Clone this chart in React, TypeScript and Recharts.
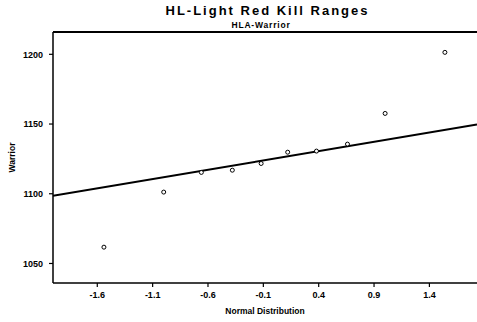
import React from 'react';
import {
    ScatterChart,
    Scatter,
    XAxis,
    YAxis,
    Label,
} from 'recharts';

const normalScores = [-1.54, -1.0, -0.66, -0.38, -0.12, 0.12, 0.38, 0.66, 1.0, 1.54];
const warriorValues = [1061.7, 1101.2, 1115.3, 1116.9, 1121.7, 1129.8, 1130.6, 1135.6, 1157.6, 1201.4];

// fitted reference line end points
const fitX = [-2.0, 1.83];
const fitY = [1098.5, 1149.6];

const xTicks = [-1.6, -1.1, -0.6, -0.1, 0.4, 0.9, 1.4];
const yTicks = [1050, 1100, 1150, 1200];

const points = normalScores.map((x, i) => ({ x, y: warriorValues[i] }));
const fitLine = fitX.map((x, i) => ({ x, y: fitY[i] }));

const font = '"Liberation Sans", Arial, sans-serif';
const tickStyle = { fill: '#000', fontSize: 9, fontWeight: 700, fontFamily: font };

export default function App() {
    return (
        <div style={{ position: 'absolute', left: 0, top: 0, width: 477, height: 322, background: '#fff', fontFamily: font }}>
            <ScatterChart width={477} height={322} margin={{ top: 32, right: 0, left: 0, bottom: 0 }}>
                <XAxis
                    type="number"
                    dataKey="x"
                    domain={[-2.0, 1.83]}
                    ticks={xTicks}
                    tickFormatter={(v: number) => v.toFixed(1)}
                    tick={tickStyle}
                    tickSize={4}
                    tickMargin={5}
                    height={39}
                    axisLine={{ stroke: '#000', strokeWidth: 1.5 }}
                    tickLine={{ stroke: '#000', strokeWidth: 1.2 }}
                    allowDataOverflow
                >
                    <Label value="Normal Distribution" position="insideBottom" offset={8}
                        style={{ fill: '#000', fontSize: 8.5, fontWeight: 700, fontFamily: font }} />
                </XAxis>
                <YAxis
                    type="number"
                    dataKey="y"
                    domain={[1036, 1216]}
                    ticks={yTicks}
                    tick={tickStyle}
                    tickSize={4}
                    tickMargin={6}
                    width={53}
                    axisLine={{ stroke: '#000', strokeWidth: 1.5 }}
                    tickLine={{ stroke: '#000', strokeWidth: 1.2 }}
                    allowDataOverflow
                >
                    <Label value="Warrior" angle={-90} position="insideLeft" offset={12}
                        style={{ fill: '#000', fontSize: 8.5, fontWeight: 700, fontFamily: font, textAnchor: 'middle' }} />
                </YAxis>
                <Scatter
                    data={fitLine}
                    line={{ stroke: '#000', strokeWidth: 2 }}
                    shape={() => null}
                    isAnimationActive={false}
                />
                <Scatter
                    data={points}
                    shape={(p: any) => (
                        <circle cx={p.cx} cy={p.cy} r={2} fill="#fff" stroke="#000" strokeWidth={1} />
                    )}
                    isAnimationActive={false}
                />
            </ScatterChart>
            <div style={{ position: 'absolute', left: 0, width: 535, top: 3, textAlign: 'center', fontSize: 13, fontWeight: 700, letterSpacing: 2, lineHeight: '15px', zIndex: 2 }}>
                HL-Light Red Kill Ranges
            </div>
            <div style={{ position: 'absolute', left: 0, width: 522, top: 20, textAlign: 'center', fontSize: 8.5, fontWeight: 700, letterSpacing: 0.8, lineHeight: '10px', zIndex: 2 }}>
                HLA-Warrior
            </div>
            {/* top frame line of the plot box */}
            <div style={{ position: 'absolute', left: 53, top: 31, width: 424, height: 0, borderTop: '2px solid #000', zIndex: 2 }} />
        </div>
    );
}
